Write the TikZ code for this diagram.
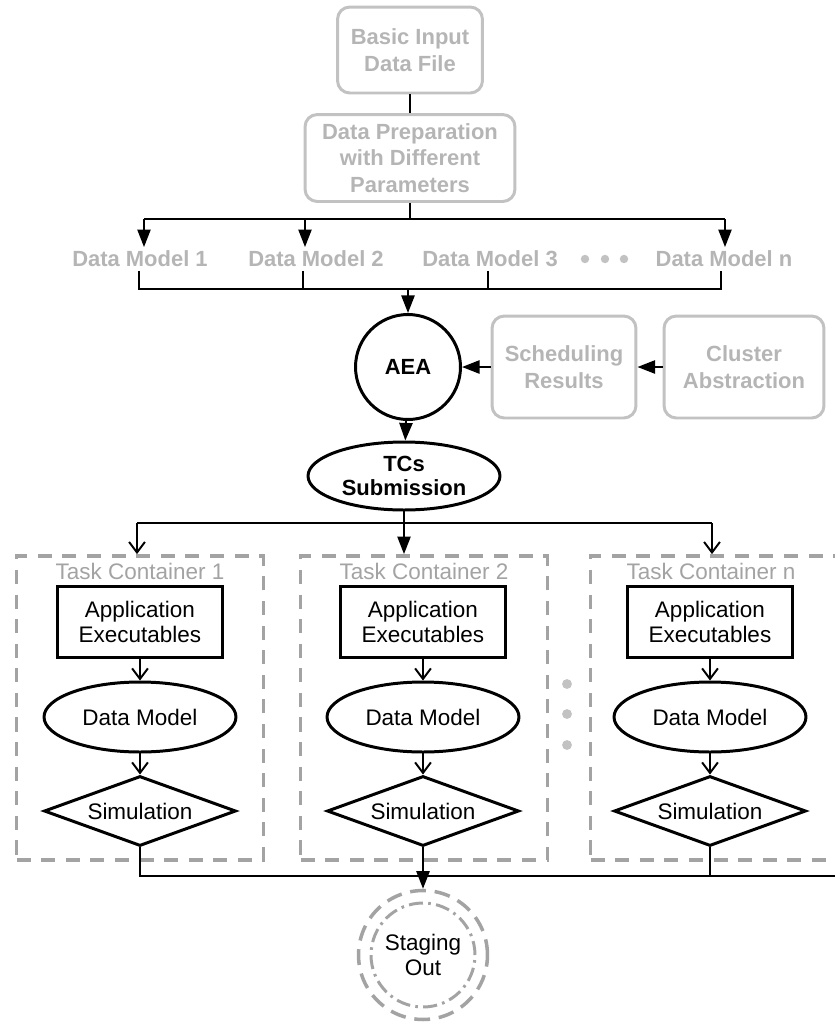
\documentclass[tikz,border=0pt]{standalone}
\usepackage{fontspec}
\setmainfont{Liberation Sans}
\usepackage{xcolor}
\usetikzlibrary{shapes.geometric,arrows.meta}
\definecolor{lgray}{HTML}{C2C2C2}
\definecolor{tgray}{HTML}{B5B5B5}
\definecolor{dgray}{HTML}{A3A3A3}
\tikzset{
  grbox/.style={draw=lgray, line width=1.7pt, rounded corners=7pt, text=tgray, font=\fontsize{12.5}{15}\selectfont\bfseries, align=center},
  grlabel/.style={text=tgray, font=\fontsize{12.5}{15}\selectfont\bfseries, inner xsep=0pt, inner ysep=2pt},
  conn/.style={line width=1.1pt},
  tri/.style={conn, -{Triangle[length=10pt,width=7.5pt]}},
  barb/.style={conn, -{Straight Barb[length=6pt,width=9pt]}},
  blknode/.style={draw, line width=1.7pt, font=\fontsize{12.8}{14.5}\selectfont, align=center, inner sep=0pt},
  appbox/.style={blknode, rectangle, minimum width=3.32cm, minimum height=1.42cm},
  dmell/.style={blknode, ellipse, minimum width=3.84cm, minimum height=1.4cm},
  simdia/.style={blknode, diamond, aspect=2.7, minimum width=3.84cm, minimum height=1.4cm},
  tcbox/.style={draw=dgray, line width=2.2pt, dash pattern=on 8pt off 6pt, minimum width=4.94cm, minimum height=6.08cm},
  tctitle/.style={text=dgray, font=\fontsize{12.8}{15}\selectfont}
}

\begin{document}
\begin{tikzpicture}[x=0.02cm,y=-0.02cm]
    \useasboundingbox (0,0) rectangle (835,1025);
    % input and preparation
    \node[grbox, minimum width=2.9cm, minimum height=1.72cm] (input) at (410,50) {Basic Input\\Data File};
    \node[grbox, minimum width=4.2cm, minimum height=1.74cm] (prep) at (410,158) {Data Preparation\\with Different\\Parameters};
    \draw[conn] (input) -- (prep);

    % data models
    \node[grlabel] (dm1) at (140,259) {Data Model 1};
    \node[grlabel] (dm2) at (316,259) {Data Model 2};
    \node[grlabel] (dm3) at (490,259) {Data Model 3};
    \node[grlabel] (dmn) at (724,259) {Data Model n};
    \fill[lgray] (585,259) circle (2.4pt) (605,259) circle (2.4pt) (624,259) circle (2.4pt);
    \coordinate (s1) at (144,219);
    \coordinate (s2) at (305,219);
    \coordinate (sn) at (725,219);
    \draw[conn] (prep) -- (prep |- s1);
    \draw[conn] (s1) -- (sn);
    \draw[tri] (s1) -- (s1 |- dm1.north);
    \draw[tri] (s2) -- (s2 |- dm2.north);
    \draw[tri] (sn) -- (sn |- dmn.north);
    \coordinate (c1) at (139,289);
    \coordinate (c2) at (303,289);
    \coordinate (c3) at (488,289);
    \coordinate (cn) at (721,289);
    \draw[conn] (c1 |- dm1.south) -- (c1) -- (cn) -- (cn |- dmn.south);
    \draw[conn] (c2 |- dm2.south) -- (c2);
    \draw[conn] (c3 |- dm3.south) -- (c3);

    % AEA
    \node[blknode, circle, minimum size=2.1cm, font=\fontsize{12.5}{15}\selectfont\bfseries] (aea) at (408,367) {AEA};
    \draw[tri] (aea |- c1) -- (aea);
    \node[grbox, minimum width=2.88cm, minimum height=2.04cm] (sched) at (564,367) {Scheduling\\Results};
    \node[grbox, minimum width=3.2cm, minimum height=2.04cm] (clus) at (744,367) {Cluster\\Abstraction};
    \draw[tri] (clus) -- (sched);
    \draw[tri] (sched) -- (aea);
    \node[blknode, ellipse, minimum width=3.84cm, minimum height=1.36cm, font=\fontsize{12.5}{14}\selectfont\bfseries] (tcs) at (404,476) {TCs\\Submission};
    \draw[tri] (aea) -- (tcs);

    % task containers
    \node[tcbox] (tc1) at (140,708) {};
    \node[tcbox] (tc2) at (424,708) {};
    \node[tcbox] (tcn) at (714,708) {};
    \node[tctitle] (tt1) at (140,571) {Task Container 1};
    \node[tctitle] (tt2) at (424,571) {Task Container 2};
    \node[tctitle] (ttn) at (711,571) {Task Container n};
    \coordinate (d1) at (137,523);
    \coordinate (d2) at (404,523);
    \coordinate (dn) at (712,523);
    \draw[conn] (tcs) -- (d2);
    \draw[conn] (d1) -- (dn);
    \draw[barb] (d1) -- (d1 |- tc1.north);
    \draw[tri] (d2) -- (d2 |- tc2.north);
    \draw[barb] (dn) -- (dn |- tcn.north);

    \node[appbox] (app1) at (140,622) {Application\\Executables};
    \node[dmell] (mod1) at (140,717) {Data Model};
    \node[simdia] (sim1) at (140,811) {Simulation};
    \draw[barb] (app1) -- (mod1);
    \draw[barb] (mod1) -- (sim1);

    \node[appbox] (app2) at (423,622) {Application\\Executables};
    \node[dmell] (mod2) at (423,717) {Data Model};
    \node[simdia] (sim2) at (423,811) {Simulation};
    \draw[barb] (app2) -- (mod2);
    \draw[barb] (mod2) -- (sim2);

    \node[appbox] (appn) at (710,622) {Application\\Executables};
    \node[dmell] (modn) at (710,717) {Data Model};
    \node[simdia] (simn) at (710,811) {Simulation};
    \draw[barb] (appn) -- (modn);
    \draw[barb] (modn) -- (simn);

    \fill[lgray] (567,684) circle (2.8pt) (567,714) circle (2.8pt) (567,745) circle (2.8pt);

    % staging out
    \node[blknode, circle, draw=dgray, line width=2pt, dash pattern=on 9pt off 5pt, minimum size=2.58cm] (stage) at (423,955) {Staging\\Out};
    \draw[dgray, line width=1.7pt, dash pattern=on 8pt off 3pt on 1.5pt off 3pt] (stage) circle (1.04cm);
    \coordinate (o1) at (138,876);
    \coordinate (oe) at (835,876);
    \draw[conn] (sim1) -- (sim1 |- o1) -- (oe);
    \draw[conn] (simn) -- (simn |- o1);
    \draw[tri] (sim2) -- (stage);
\end{tikzpicture}
\end{document}
